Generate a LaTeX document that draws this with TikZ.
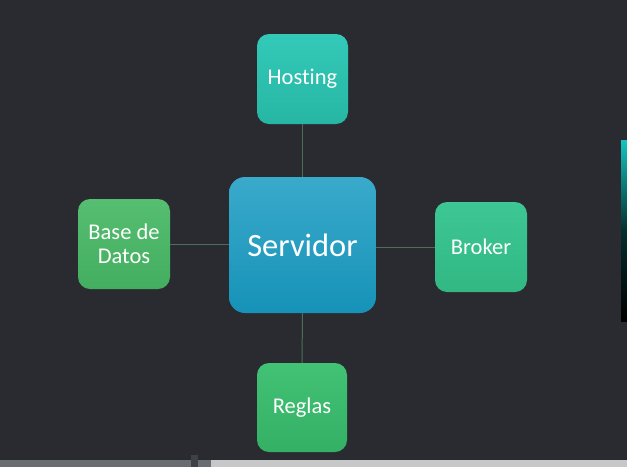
\documentclass[tikz,border=0pt]{standalone}
\usepackage{fontspec}
\setmainfont[Ligatures={NoCommon}]{Carlito}
\definecolor{bg}{HTML}{2A2B30}
\definecolor{linec}{HTML}{4A6E5A}
\definecolor{hostT}{HTML}{33C9B8}
\definecolor{hostB}{HTML}{27B6A4}
\definecolor{servT}{HTML}{3AAACB}
\definecolor{servB}{HTML}{1692B8}
\definecolor{baseT}{HTML}{55BE70}
\definecolor{baseB}{HTML}{44AE60}
\definecolor{brokT}{HTML}{3DC795}
\definecolor{brokB}{HTML}{31B883}
\definecolor{regT}{HTML}{42C275}
\definecolor{regB}{HTML}{34B065}
\definecolor{barA}{HTML}{6A6D70}
\definecolor{barB}{HTML}{C6C7C9}
\definecolor{barM}{HTML}{3E4145}
\definecolor{tealbar}{HTML}{12C4C0}
\begin{document}
\begin{tikzpicture}[x=1pt,y=-1pt,
  box/.style={rounded corners=12pt, minimum width=91pt, minimum height=90pt,
    align=center, text=white, font=\fontsize{22.5}{24}\selectfont, inner sep=0pt},
  conn/.style={draw=linec, line width=1pt}]
\useasboundingbox (0,0) rectangle (627,467);
\fill[bg] (0,0) rectangle (627,467);
\node[box, top color=hostT, bottom color=hostB] (host) at (302.5,79) {Hosting};
\node[box, rounded corners=16pt, minimum width=147pt, minimum height=136pt,
  top color=servT, bottom color=servB, font=\fontsize{32.5}{36}\selectfont] (serv) at (302.5,245) {Servidor};
\node[box, minimum width=92pt, top color=baseT, bottom color=baseB] (base) at (124,244) {Base de\\Datos};
\node[box, minimum width=92pt, top color=brokT, bottom color=brokB] (brok) at (481,247) {Broker};
\node[box, minimum width=90pt, minimum height=89pt, top color=regT, bottom color=regB] (reg) at (302,407.5) {Reglas};
\draw[conn] (host.south) -- (serv.north);
\draw[conn] (serv.south) -- (reg.north);
\draw[conn] (base.east) -- (serv.west |- base.east);
\draw[conn] (serv.east |- brok.west) -- (brok.west);
% right gradient bar
\shade[top color=tealbar, bottom color=black, middle color=black!60!tealbar!60!black] (621,140) rectangle (627,321);
% bottom scroll bar
\fill[barA] (0,460) rectangle (211,467);
\fill[barB] (211,460) rectangle (627,467);
\fill[barM] (191,455) rectangle (198,467);
\end{tikzpicture}
\end{document}
